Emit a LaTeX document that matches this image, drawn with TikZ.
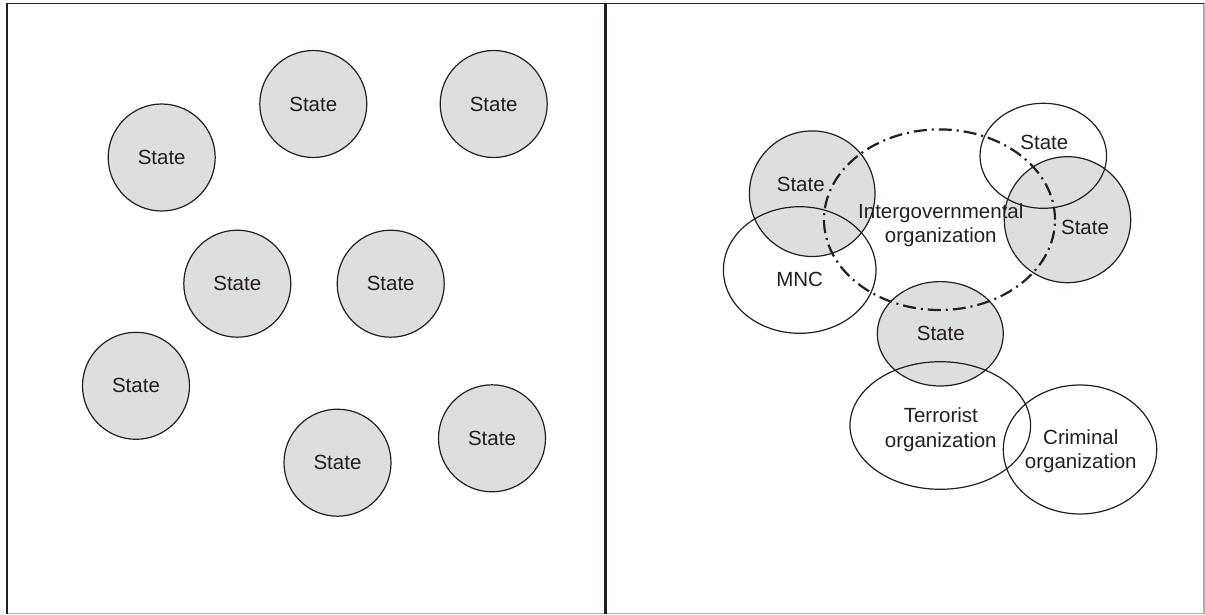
\documentclass[tikz,border=0pt]{standalone}
\usepackage{fontspec}
\setmainfont{Liberation Sans}
\usetikzlibrary{shapes.geometric}
\definecolor{stategray}{RGB}{221,222,224}
\definecolor{ink}{RGB}{35,31,32}
\definecolor{framegray}{RGB}{175,175,175}
\tikzset{
  lbl/.style={inner sep=0pt, text=ink, font=\fontsize{20.5}{24.5}\selectfont, align=center},
  statefill/.style={circle, fill=stategray, draw=ink, line width=1.2pt, inner sep=0pt},
  oval/.style={ellipse, draw=ink, line width=1.2pt, inner sep=0pt},
  igo/.style={ellipse, draw=ink, line width=2.2pt, inner sep=0pt,
    dash pattern=on 13pt off 5pt on 2pt off 5pt},
}
\begin{document}
\begin{tikzpicture}[x=1pt,y=-1pt]
\useasboundingbox (0,0) rectangle (1205,615);
% frame
\draw[framegray, line width=1.5pt] (1204,3.5) -- (1204,613.5) -- (7,613.5);
\draw[ink, line width=1.6pt] (7,613.5) -- (7,3.5) -- (1204,3.5);
\draw[ink, line width=2.5pt] (605.5,3.5) -- (605.5,613.5);

% left panel states
\node[statefill, minimum size=107pt] (s1) at (161.7,157.5) {};
\node[statefill, minimum size=107pt] (s2) at (313.3,104) {};
\node[statefill, minimum size=107pt] (s3) at (493.7,104) {};
\node[statefill, minimum size=107pt] (s4) at (237.3,283.7) {};
\node[statefill, minimum size=107pt] (s5) at (390.7,283.7) {};
\node[statefill, minimum size=107pt] (s6) at (136,385.8) {};
\node[statefill, minimum size=107pt] (s7) at (337.5,462.7) {};
\node[statefill, minimum size=107pt] (s8) at (492,438.3) {};
\foreach \n in {s1,s2,s3,s4,s5,s6,s7,s8} \node[lbl] (\n t) at (\n) {State};

% right panel: gray states
\node[statefill, ellipse, minimum width=125.6pt, minimum height=125.6pt] (rl) at (812.2,193.7) {};
\node[statefill, ellipse, minimum width=126.4pt, minimum height=126pt] (rr) at (1067.5,219.7) {};
\node[statefill, ellipse, minimum width=126pt, minimum height=104.4pt] (rb) at (940.3,333.8) {};

% right panel: open ovals
\node[oval, minimum width=152.6pt, minimum height=126.6pt] (mnc) at (799.7,270) {};
\node[oval, minimum width=126.6pt, minimum height=105pt] (rt) at (1043.3,155.8) {};
\node[oval, minimum width=180.6pt, minimum height=127.6pt] (ter) at (940.3,425.5) {};
\node[oval, minimum width=153.4pt, minimum height=129pt] (cri) at (1080,449.5) {};

% intergovernmental organization
\node[igo, minimum width=231pt, minimum height=180.6pt] (igo) at (939.5,219.7) {};

% labels
\node[lbl] (rlt) at (800.8,184.2) {State};
\node[lbl] (mnct) at (799.7,279.3) {MNC};
\node[lbl] (rtt) at (1044.3,142.5) {State};
\node[lbl] (rrt) at (1085,227.8) {State};
\node[lbl] (rbt) at (940.8,333.3) {State};
\node[lbl] (igot) at (940.8,225) {Intergovernmental\\organization};
\node[lbl] (tert) at (940.8,429.5) {Terrorist\\organization};
\node[lbl] (crit) at (1080.8,451) {Criminal\\organization};
\end{tikzpicture}
\end{document}
